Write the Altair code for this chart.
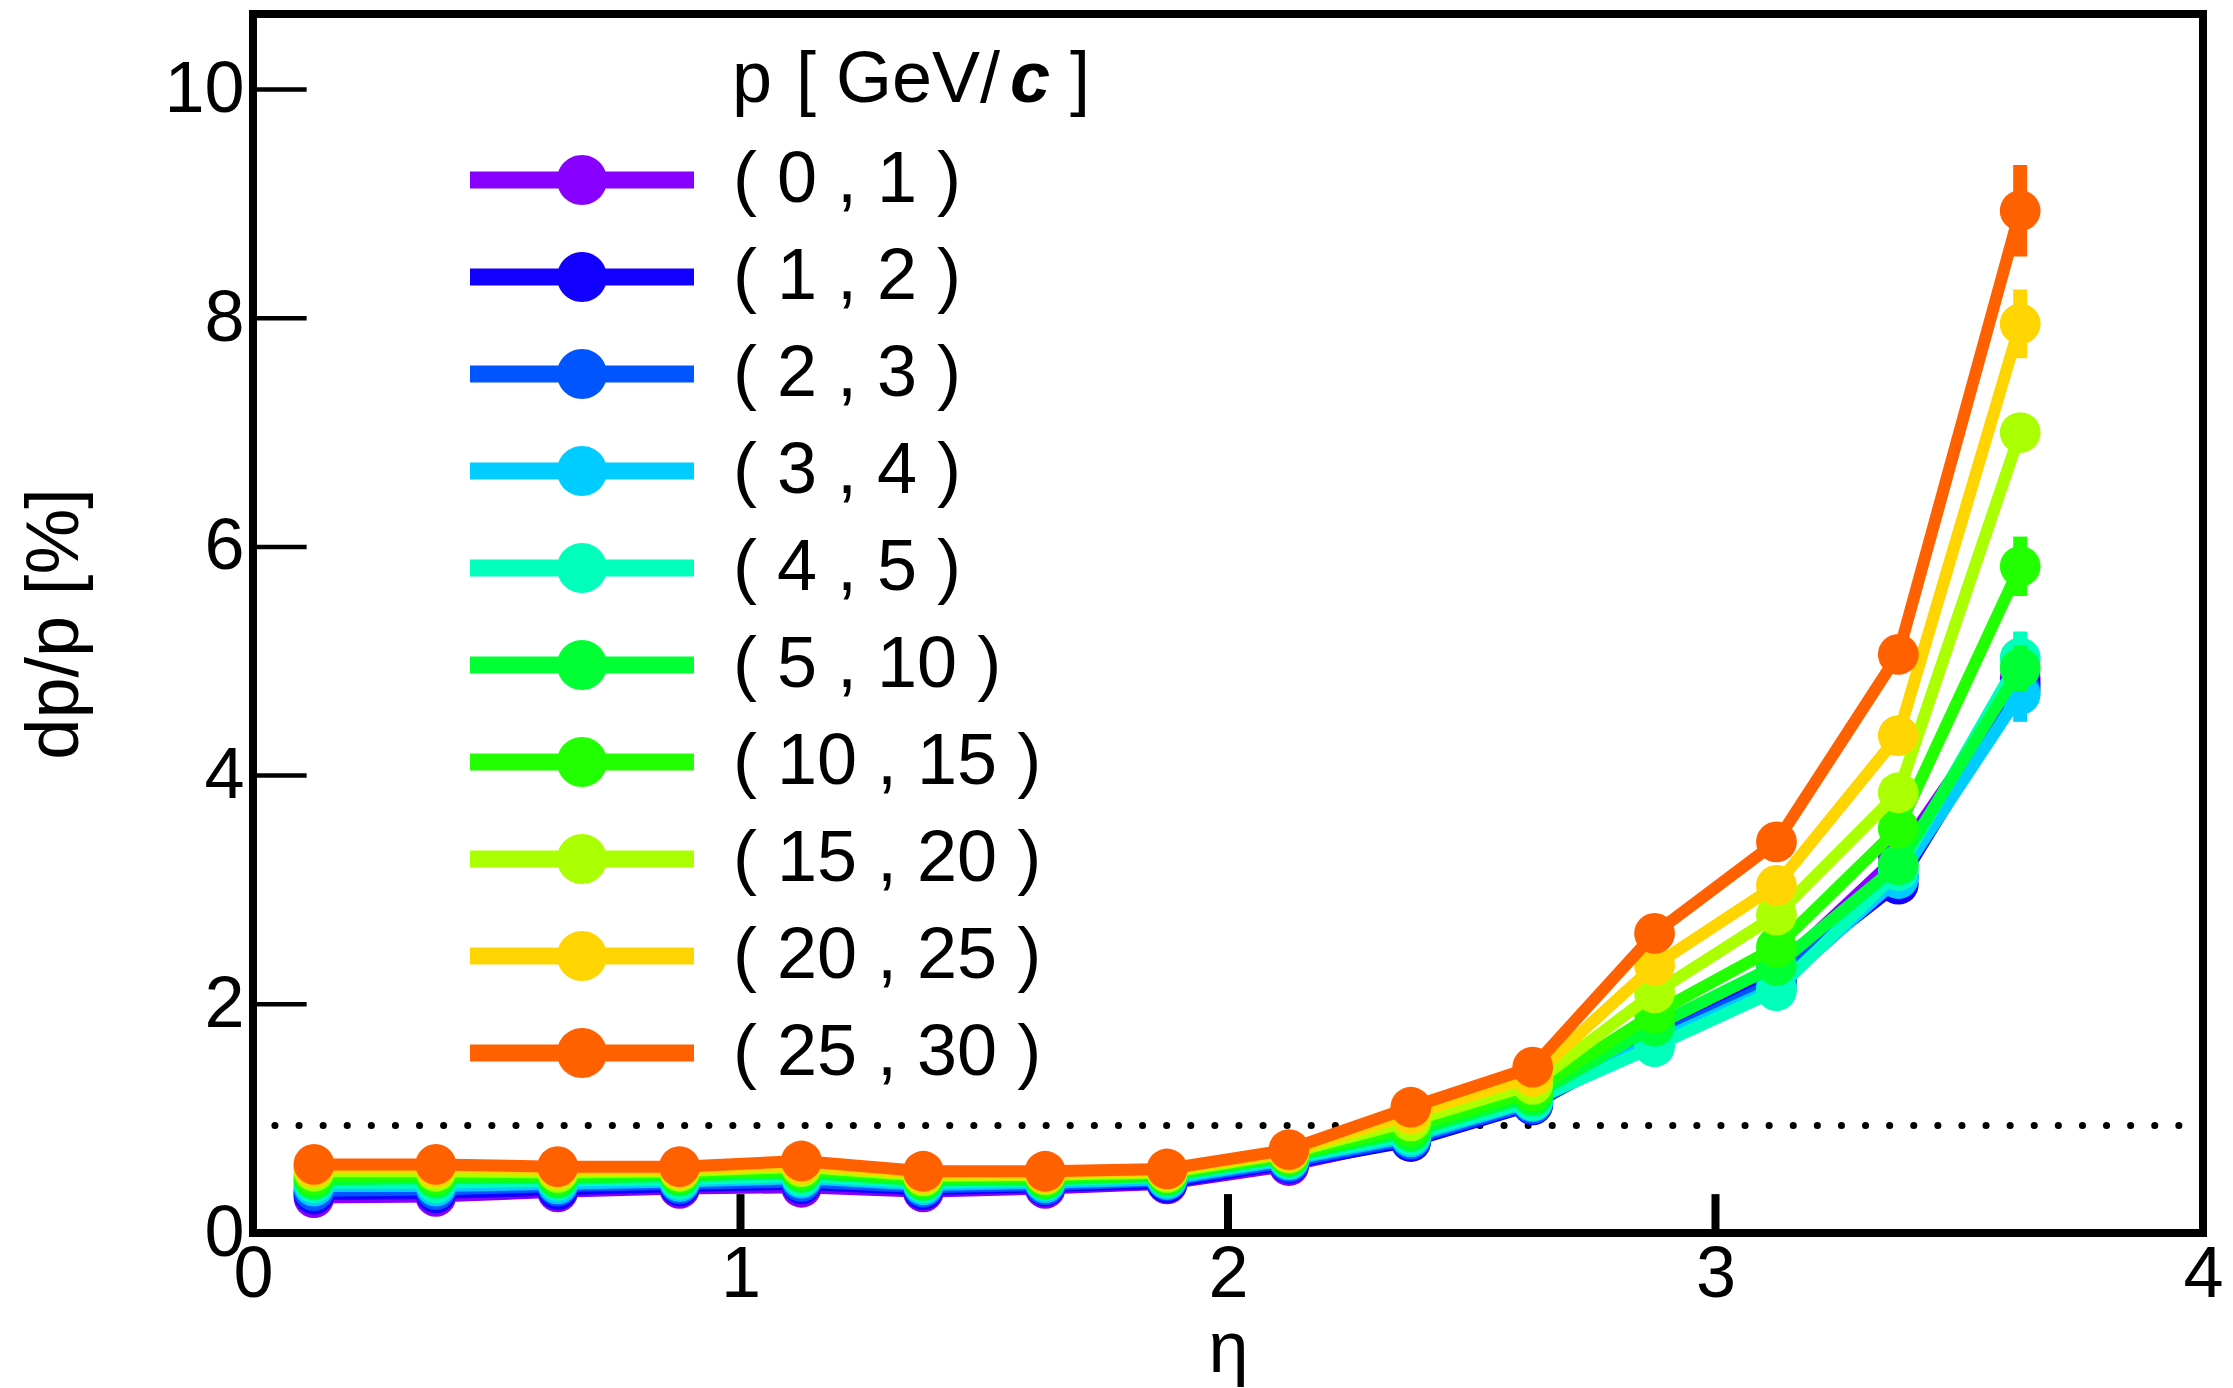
import altair as alt
import pandas as pd

# ---------------- data ----------------
eta = [0.125, 0.375, 0.625, 0.875, 1.125, 1.375, 1.625, 1.875,
       2.125, 2.375, 2.625, 2.875, 3.125, 3.375, 3.625]

ranges = ["( 0 , 1 )", "( 1 , 2 )", "( 2 , 3 )", "( 3 , 4 )", "( 4 , 5 )",
          "( 5 , 10 )", "( 10 , 15 )", "( 15 , 20 )", "( 20 , 25 )", "( 25 , 30 )"]
colors = ["#8800ff", "#1100ff", "#0055ff", "#00ccff", "#00ffbb",
          "#00ff33", "#22ff00", "#aaff00", "#ffd500", "#ff6000"]

dpp_0_1 = [0.31, 0.32, 0.36, 0.39, 0.40, 0.36, 0.39, 0.43, 0.59, 0.82, 1.13, 1.74, 2.30, 3.30, 4.85]
dpp_1_2 = [0.34, 0.35, 0.38, 0.41, 0.43, 0.38, 0.41, 0.44, 0.61, 0.80, 1.12, 1.72, 2.22, 3.05, 4.80]
dpp_2_3 = [0.37, 0.38, 0.41, 0.43, 0.45, 0.40, 0.42, 0.46, 0.62, 0.82, 1.13, 1.69, 2.20, 3.12, 4.75]
dpp_3_4 = [0.41, 0.41, 0.43, 0.45, 0.48, 0.42, 0.44, 0.47, 0.64, 0.84, 1.15, 1.67, 2.15, 3.10, 4.71]
dpp_4_5 = [0.44, 0.44, 0.46, 0.47, 0.50, 0.44, 0.46, 0.49, 0.65, 0.86, 1.16, 1.63, 2.12, 3.17, 5.03]
dpp_5_10 = [0.47, 0.48, 0.48, 0.50, 0.53, 0.46, 0.47, 0.50, 0.67, 0.89, 1.20, 1.81, 2.34, 3.22, 4.94]
dpp_10_15 = [0.50, 0.51, 0.51, 0.52, 0.55, 0.48, 0.49, 0.52, 0.68, 0.93, 1.24, 1.92, 2.50, 3.54, 5.83]
dpp_15_20 = [0.54, 0.54, 0.53, 0.54, 0.58, 0.50, 0.51, 0.53, 0.70, 0.98, 1.30, 2.10, 2.78, 3.85, 7.00]
dpp_20_25 = [0.57, 0.57, 0.56, 0.56, 0.60, 0.52, 0.52, 0.55, 0.71, 1.04, 1.37, 2.34, 3.04, 4.35, 7.95]
dpp_25_30 = [0.60, 0.60, 0.58, 0.58, 0.63, 0.54, 0.54, 0.56, 0.73, 1.10, 1.45, 2.62, 3.42, 5.06, 8.94]

err_0_1 = [0.01, 0.01, 0.01, 0.01, 0.01, 0.01, 0.01, 0.01, 0.01, 0.02, 0.03, 0.04, 0.05, 0.08, 0.20]
err_1_2 = [0.01, 0.01, 0.01, 0.01, 0.01, 0.01, 0.01, 0.01, 0.01, 0.02, 0.03, 0.04, 0.05, 0.12, 0.20]
err_2_3 = [0.01, 0.01, 0.01, 0.01, 0.01, 0.01, 0.01, 0.01, 0.01, 0.02, 0.03, 0.04, 0.05, 0.10, 0.20]
err_3_4 = [0.01, 0.01, 0.01, 0.01, 0.01, 0.01, 0.01, 0.01, 0.01, 0.02, 0.03, 0.04, 0.05, 0.10, 0.24]
err_4_5 = [0.01, 0.01, 0.01, 0.01, 0.01, 0.01, 0.01, 0.01, 0.01, 0.02, 0.03, 0.04, 0.05, 0.10, 0.23]
err_5_10 = [0.01, 0.01, 0.01, 0.01, 0.01, 0.01, 0.01, 0.01, 0.01, 0.02, 0.03, 0.04, 0.05, 0.10, 0.20]
err_10_15 = [0.01, 0.01, 0.01, 0.01, 0.01, 0.01, 0.01, 0.01, 0.01, 0.02, 0.03, 0.04, 0.05, 0.10, 0.26]
err_15_20 = [0.01, 0.01, 0.01, 0.01, 0.01, 0.01, 0.01, 0.01, 0.01, 0.02, 0.03, 0.04, 0.05, 0.08, 0.12]
err_20_25 = [0.01, 0.01, 0.01, 0.01, 0.01, 0.01, 0.01, 0.01, 0.01, 0.02, 0.03, 0.04, 0.05, 0.10, 0.30]
err_25_30 = [0.01, 0.01, 0.01, 0.01, 0.01, 0.01, 0.01, 0.01, 0.01, 0.02, 0.03, 0.04, 0.05, 0.10, 0.40]

threshold = [0.94]
y_ticks = [2, 4, 6, 8, 10]
x_ticks = [1, 2, 3]
y_tick_labels = [0, 2, 4, 6, 8, 10]
x_tick_labels = [0, 1, 2, 3, 4]

series_values = [dpp_0_1, dpp_1_2, dpp_2_3, dpp_3_4, dpp_4_5,
                 dpp_5_10, dpp_10_15, dpp_15_20, dpp_20_25, dpp_25_30]
series_errors = [err_0_1, err_1_2, err_2_3, err_3_4, err_4_5,
                 err_5_10, err_10_15, err_15_20, err_20_25, err_25_30]

rows = []
for lab, vals, errs in zip(ranges, series_values, series_errors):
    for x, v, e in zip(eta, vals, errs):
        rows.append({"eta": x, "dpp": v, "lo": v - e, "hi": v + e, "rng": lab})
df = pd.DataFrame(rows)

# ---------------- styling ----------------
FONT = "Liberation Sans"
x_scale = alt.Scale(domain=[0, 4], nice=False, zero=False)
y_scale = alt.Scale(domain=[0, 10.66], nice=False, zero=False)
color_scale = alt.Scale(domain=ranges, range=colors)

x_axis = alt.Axis(title="η", values=x_tick_labels, labelFlush=False, labelOverlap=False,
                  labelPadding=6, titlePadding=4, ticks=False, domain=False, grid=False,
                  labelFontSize=72, titleFontSize=72)
y_axis = alt.Axis(title="dp/p [%]", values=y_tick_labels, labelPadding=9,
                  titlePadding=70, labelOverlap=False, ticks=False, domain=False, grid=False,
                  labelFontSize=72, titleFontSize=74)

symbol_path = "M-4.48,-0.34H4.48V0.34H-4.48Z M1,0A1,1,0,1,1,-1,0A1,1,0,1,1,1,0Z"
legend = alt.Legend(title=None, orient="none", legendX=293, legendY=130, padding=0,
                    symbolType=symbol_path, symbolSize=2500, symbolStrokeWidth=0,
                    labelFont=FONT, labelFontSize=72, labelColor="black",
                    labelOffset=115, rowPadding=25, labelLimit=600)

layers = []

# dotted reference line
layers.append(
    alt.Chart(pd.DataFrame({"y": threshold})).mark_rule(
        color="black", strokeWidth=7, strokeDash=[0.1, 24], strokeCap="round"
    ).encode(y=alt.Y("y:Q", scale=y_scale, axis=y_axis))
)

# inward ticks
layers.append(
    alt.Chart(pd.DataFrame({"v": y_ticks, "a": [0] * len(y_ticks), "b": [0.11] * len(y_ticks)}))
    .mark_rule(color="black", strokeWidth=4.5)
    .encode(x=alt.X("a:Q", scale=x_scale, axis=x_axis), x2="b:Q",
            y=alt.Y("v:Q", scale=y_scale, axis=y_axis))
)
layers.append(
    alt.Chart(pd.DataFrame({"v": x_ticks, "a": [0] * len(x_ticks), "b": [0.34] * len(x_ticks)}))
    .mark_rule(color="black", strokeWidth=8)
    .encode(y=alt.Y("a:Q", scale=y_scale, axis=y_axis), y2="b:Q",
            x=alt.X("v:Q", scale=x_scale, axis=x_axis))
)

for lab, col in zip(ranges, colors):
    sub = alt.Chart(df).transform_filter(alt.datum.rng == lab)
    layers.append(
        sub.mark_rule(strokeWidth=14, color=col).encode(
            x=alt.X("eta:Q", scale=x_scale, axis=x_axis),
            y=alt.Y("lo:Q", scale=y_scale, axis=y_axis),
            y2="hi:Q",
        )
    )
    layers.append(
        sub.mark_line(strokeWidth=12, color=col).encode(
            x=alt.X("eta:Q", scale=x_scale, axis=x_axis),
            y=alt.Y("dpp:Q", scale=y_scale, axis=y_axis),
        )
    )
    layers.append(
        sub.mark_circle(size=1662, opacity=1).encode(
            x=alt.X("eta:Q", scale=x_scale, axis=x_axis),
            y=alt.Y("dpp:Q", scale=y_scale, axis=y_axis),
            color=alt.Color("rng:N", scale=color_scale, legend=legend),
        )
    )


# legend title  p [ GeV/c ]
def title_piece(text, xpos, **style):
    return alt.Chart(pd.DataFrame({"t": [text]})).mark_text(
        align="left", baseline="alphabetic", font=FONT, fontSize=72, color="black", **style
    ).encode(text="t:N", x=alt.value(xpos), y=alt.value(88))


layers += [
    title_piece("p", 479),
    title_piece("[", 543),
    title_piece("GeV/", 583),
    title_piece("c", 757, fontStyle="italic", fontWeight="bold"),
    title_piece("]", 817),
]

chart = alt.layer(*layers).properties(
    width=1950, height=1219,
    padding={"left": 253, "top": 14, "right": 29, "bottom": 155},
    autosize=alt.AutoSizeParams(type="none"),
    background="white",
).configure_view(
    stroke="black", strokeWidth=8
).configure_axis(
    labelFont=FONT, titleFont=FONT,
    labelColor="black", titleColor="black", titleFontWeight="normal",
)

chart.save("out.html", embed_options={"renderer": "svg", "actions": False})
